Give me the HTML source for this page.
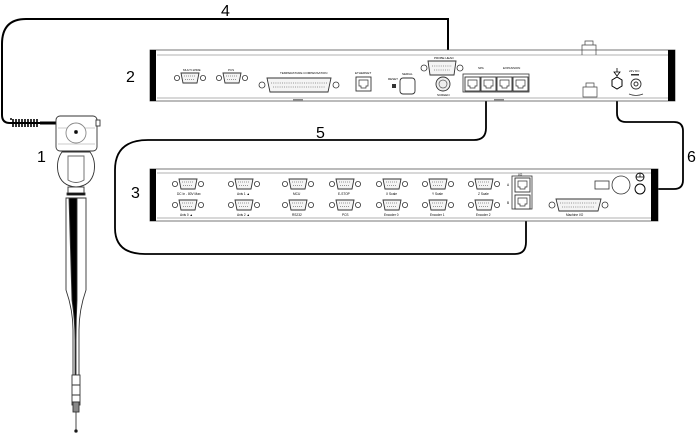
<!DOCTYPE html>
<html><head><style>
body{margin:0;background:#fff;}
svg{display:block;font-family:"Liberation Sans",sans-serif;}
</style></head><body>
<svg width="700" height="433" viewBox="0 0 700 433" xmlns="http://www.w3.org/2000/svg">
<defs>
<g id="db" >
  <circle cx="-13" cy="0" r="2.6" fill="none" stroke="#333" stroke-width="0.8"/>
  <circle cx="13" cy="0" r="2.6" fill="none" stroke="#333" stroke-width="0.8"/>
  <path d="M-9,-5 H9 L7,5 H-7 Z" fill="#f4f4f4" stroke="#333" stroke-width="0.9"/>
  <path d="M-6,-2 H6 M-5,1.5 H5" stroke="#777" stroke-width="0.8" stroke-dasharray="1,1"/>
</g>
<g id="rj">
  <rect x="0" y="0" width="15" height="14" fill="#fff" stroke="#333" stroke-width="0.9"/>
  <path d="M3,3 H12 V9 H10 V11 H5 V9 H3 Z" fill="none" stroke="#333" stroke-width="0.7"/>
</g>
</defs>

<!-- Cable 4 -->
<path d="M448,58 V19 H26 Q2,19 2,44 V115 Q2,123 10,123 H50" fill="none" stroke="#000" stroke-width="2"/>
<path d="M10,119 h2 M13,119 v8 M16,119 v8 M19,119 v8 M22,119 v8 M25,119 v8 M28,119 v8 M31,119 v8 M34,119 v8 M37,119 v8" stroke="#000" stroke-width="1.6"/>
<path d="M40,123 H57" stroke="#000" stroke-width="3"/>

<!-- Cable 5 -->
<path d="M486,90 V128 Q486,140 474,140 H148 Q115,140 115,170 V228 Q115,254 145,254 H515 Q526,254 526,242 V205" fill="none" stroke="#000" stroke-width="1.8"/>
<!-- Cable 6 -->
<path d="M617,88 V113 Q617,122 626,122 H674 Q683,122 683,131 V180 Q683,189 674,189 H645" fill="none" stroke="#000" stroke-width="1.8"/>

<text x="221" y="16" font-size="16">4</text>
<text x="126" y="82" font-size="16">2</text>
<text x="316" y="138" font-size="16">5</text>
<text x="131" y="198" font-size="16">3</text>
<text x="687" y="162" font-size="16">6</text>
<text x="37" y="162" font-size="16">1</text>

<!-- Box 2 -->
<rect x="150" y="50" width="525" height="51" fill="#fff" stroke="#555" stroke-width="0.8"/>
<line x1="157" y1="55" x2="668" y2="55" stroke="#999" stroke-width="0.8"/>
<line x1="157" y1="98" x2="668" y2="98" stroke="#999" stroke-width="0.8"/>
<rect x="150" y="50" width="6" height="51" fill="#000"/>
<rect x="668" y="50" width="7" height="51" fill="#000"/>
<g font-size="3">
<use href="#db" x="190" y="78"/><text x="183" y="71">MULTI-WIRE</text>
<use href="#db" x="232" y="78"/><text x="228" y="71">PCS</text>
<circle cx="262" cy="85" r="3" fill="none" stroke="#333" stroke-width="0.8"/>
<circle cx="336" cy="85" r="3" fill="none" stroke="#333" stroke-width="0.8"/>
<path d="M267,78 H331 L328,92 H270 Z" fill="#f4f4f4" stroke="#333" stroke-width="0.9"/>
<path d="M271,83 H327 M273,87 H325" stroke="#777" stroke-width="0.8" stroke-dasharray="1,1.2"/>
<text x="280" y="74">TEMPERATURE COMPENSATION</text>
<rect x="293" y="99" width="10" height="2" fill="#888"/>
<use href="#rj" x="356" y="77"/><text x="355" y="74">ETHERNET</text>
<rect x="392" y="84" width="4" height="4" fill="#333"/><text x="388" y="80">RESET</text>
<rect x="400" y="78" width="15" height="16" rx="3" fill="#fff" stroke="#333" stroke-width="0.9"/><text x="402" y="75">SERIAL</text>
<circle cx="443" cy="84" r="7" fill="#eee" stroke="#333" stroke-width="0.9"/><circle cx="443" cy="84" r="4" fill="none" stroke="#555" stroke-width="0.7"/>
<text x="437" y="96">SCREEN</text>
<circle cx="424" cy="68" r="3" fill="none" stroke="#333" stroke-width="0.8"/>
<circle cx="460" cy="68" r="3" fill="none" stroke="#333" stroke-width="0.8"/>
<path d="M428,61 H456 L454,75 H430 Z" fill="#f4f4f4" stroke="#333" stroke-width="0.9"/>
<path d="M432,66 H452 M434,70 H450" stroke="#777" stroke-width="0.8" stroke-dasharray="1,1.2"/>
<text x="434" y="59">PROBE HEAD</text>
<rect x="463" y="74" width="66" height="18" fill="#fff" stroke="#333" stroke-width="0.8"/>
<use href="#rj" x="465" y="77"/><use href="#rj" x="481" y="77"/><use href="#rj" x="497" y="77"/><use href="#rj" x="513" y="77"/>
<text x="478" y="69">SPA</text><text x="503" y="69">EXPANSION</text>
<rect x="494" y="99" width="10" height="2" fill="#888"/>
<path d="M583,87 h14 v10 h-14 Z M586,87 v-4 h8 v4" fill="none" stroke="#444" stroke-width="0.7"/>
<path d="M582,55 v-10 h14 v10 M585,45 v-4 h8 v4" fill="none" stroke="#444" stroke-width="0.7"/>
<path d="M612,80 l5,-3 l5,3 v6 l-5,3 l-5,-3 Z" fill="#fff" stroke="#000" stroke-width="1"/>
<path d="M614,72 h6 l-3,4 Z M617,68 v4" fill="none" stroke="#000" stroke-width="0.8"/>
<circle cx="636" cy="84" r="5" fill="#fff" stroke="#333" stroke-width="0.9"/><circle cx="636" cy="84" r="2" fill="none" stroke="#333"/>
<text x="629" y="72">24V DC</text><rect x="631" y="74" width="8" height="1.5" fill="#333"/>
<path d="M629,94 q7,3 14,0" fill="none" stroke="#333" stroke-width="0.7"/>
</g>

<!-- Box 3 -->
<rect x="150" y="169" width="508" height="52" fill="#fff" stroke="#555" stroke-width="0.8"/>
<line x1="157" y1="173" x2="651" y2="173" stroke="#999" stroke-width="0.8"/>
<line x1="157" y1="218" x2="651" y2="218" stroke="#999" stroke-width="0.8"/>
<rect x="150" y="169" width="6" height="52" fill="#000"/>
<rect x="651" y="169" width="7" height="52" fill="#000"/>
<g font-size="3.2">
<use href="#db" x="188" y="184"/><use href="#db" x="188" y="205"/>
<use href="#db" x="244" y="184"/><use href="#db" x="244" y="205"/>
<use href="#db" x="298" y="184"/><use href="#db" x="298" y="205"/>
<use href="#db" x="345" y="184"/><use href="#db" x="345" y="205"/>
<use href="#db" x="392" y="184"/><use href="#db" x="392" y="205"/>
<use href="#db" x="438" y="184"/><use href="#db" x="438" y="205"/>
<use href="#db" x="484" y="184"/><use href="#db" x="484" y="205"/>
<text x="177" y="195">DC In - 80V Max</text><text x="180" y="216">Axis 0 ▲</text>
<text x="237" y="195">Axis 1 ▲</text><text x="237" y="216">Axis 2 ▲</text>
<text x="293" y="195">MCU</text><text x="292" y="216">RS232</text>
<text x="338" y="195">E-STOP</text><text x="342" y="216">PCS</text>
<text x="386" y="195">X Scale</text><text x="384" y="216">Encoder 0</text>
<text x="432" y="195">Y Scale</text><text x="430" y="216">Encoder 1</text>
<text x="478" y="195">Z Scale</text><text x="476" y="216">Encoder 2</text>
<rect x="512" y="176" width="20" height="33" fill="#fff" stroke="#333" stroke-width="0.8"/>
<use href="#rj" x="515" y="178"/><use href="#rj" x="515" y="195"/>
<text x="518" y="176">I/O</text><text x="507" y="186">A</text><text x="507" y="204">B</text>
<circle cx="552" cy="205" r="3" fill="none" stroke="#333" stroke-width="0.8"/>
<circle cx="605" cy="205" r="3" fill="none" stroke="#333" stroke-width="0.8"/>
<path d="M556,199 H601 L598,211 H559 Z" fill="#f4f4f4" stroke="#333" stroke-width="0.9"/>
<path d="M560,203 H597 M562,207 H595" stroke="#777" stroke-width="0.8" stroke-dasharray="1,1.2"/>
<text x="566" y="216">Machine I/O</text>
<rect x="595" y="181" width="14" height="8" fill="#fff" stroke="#333" stroke-width="0.8"/>
<circle cx="621" cy="185" r="9" fill="#fff" stroke="#333" stroke-width="0.8"/>
<circle cx="640" cy="177" r="4" fill="none" stroke="#000" stroke-width="0.9"/><path d="M636,177 h8 M640,173 v4" stroke="#000" stroke-width="0.8"/>
<circle cx="640" cy="189" r="5" fill="#fff" stroke="#000" stroke-width="1"/>
</g>

<!-- Probe -->
<g stroke="#333" stroke-width="0.9">
<rect x="56" y="116" width="41" height="35" rx="4" fill="#fff"/>
<path d="M58,128 h37 M58,144 h37" stroke="#bbb" stroke-width="0.7"/>
<rect x="96" y="120" width="4" height="6" fill="#fff"/>
<circle cx="76" cy="133" r="10" fill="#fff" stroke="#888"/>
<circle cx="76" cy="132" r="1.5" fill="#000"/>
<path d="M62,152 q-6,8 -4,20 q3,14 18,15 q15,-1 18,-15 q2,-12 -4,-20 Z" fill="#fff"/>
<path d="M68,156 v24 q8,5 16,0 v-24 Z" fill="none" stroke="#666"/>
<rect x="68" y="187" width="16" height="8" fill="#fff"/>
<rect x="67" y="193" width="18" height="2" fill="#000"/>
<path d="M66,198 H86 V290 Q79,310 79,330 V375 H73 V330 Q73,310 66,290 Z" fill="#fff"/>
<path d="M69,198 H77 V300 Q76,320 76,340 V375 H75 V340 Q75,320 72,300 Z" fill="#000"/>
<rect x="72" y="375" width="8" height="30" fill="#fff"/>
<path d="M72,385 h8 M72,395 h8 M72,402 h8"/>
<rect x="73" y="402" width="6" height="10" fill="#888"/>
<line x1="76" y1="412" x2="76" y2="430"/>
<circle cx="76" cy="431" r="1.3" fill="#000"/>
</g>
</svg>
</body></html>
